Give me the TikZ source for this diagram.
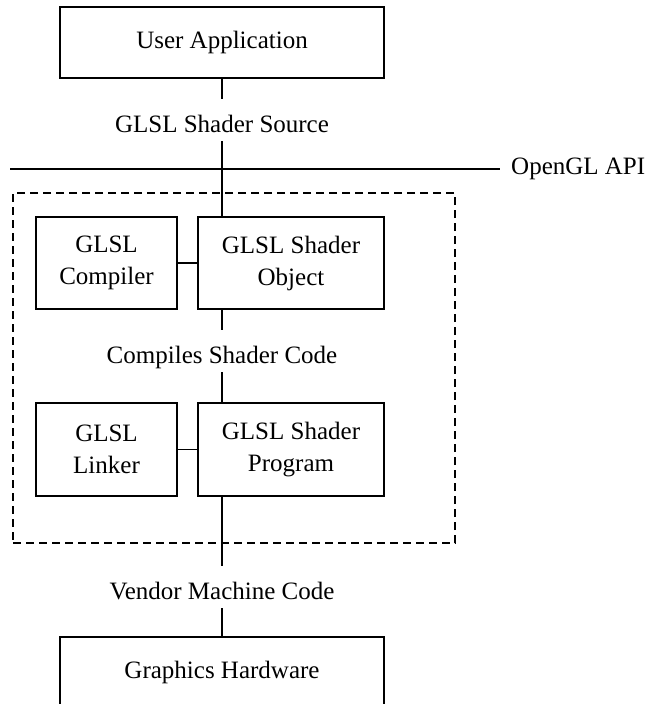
\documentclass[tikz,border=0pt]{standalone}
\usepackage{fontspec}
\setmainfont{Liberation Serif}
\begin{document}
\begin{tikzpicture}[x=1pt,y=-1pt,
  every node/.style={font=\fontsize{25}{32}\selectfont},
  box/.style={draw, line width=1.6pt, align=center, inner sep=0pt},
  lbl/.style={inner sep=0pt, text height=33pt, text depth=9pt, anchor=base},
  conn/.style={line width=1.6pt},
  grpbox/.style={draw, line width=1.6pt, dash pattern=on 8pt off 5pt, inner sep=0pt}]
\useasboundingbox (0,0) rectangle (664,704);
% group frame
\node[grpbox, minimum width=442pt, minimum height=350pt] (grp) at (234,368) {};
% top and bottom boxes
\node[box, minimum width=324pt, minimum height=71pt] (ua) at (222,42.5) {User Application};
\node[lbl] (src) at (222,132) {GLSL Shader Source};
% OpenGL API line
\coordinate (apiL) at (10,169);
\coordinate (apiR) at (500,169);
\draw[conn] (apiL) -- (apiR);
\node[anchor=west, inner sep=0pt] (api) at (511,169) {OpenGL API};
% inner boxes
\node[box, minimum width=141pt, minimum height=92pt] (comp) at (106.5,263) {GLSL\\Compiler};
\node[box, minimum width=186pt, minimum height=92pt] (obj) at (291,263) {GLSL Shader\\Object};
\node[lbl] (clbl) at (222,363) {Compiles Shader Code};
\node[box, minimum width=141pt, minimum height=93pt] (lnk) at (106.5,449.5) {GLSL\\Linker};
\node[box, minimum width=186pt, minimum height=93pt] (prog) at (291,449.5) {GLSL Shader\\Program};
\node[lbl] (vlbl) at (222,599) {Vendor Machine Code};
\node[box, minimum width=324pt, minimum height=71pt] (hw) at (222,672.5) {Graphics Hardware};
% connectors
\draw[conn] (ua.south) -- (src.north);
\draw[conn] (src.south) -- (src.south |- obj.north);
\draw[conn] (comp.east) -- (obj.west);
\draw[conn] (obj.south -| clbl) -- (clbl.north);
\draw[conn] (clbl.south) -- (clbl.south |- prog.north);
\draw[conn] (lnk.east) -- (prog.west);
\draw[conn] (prog.south -| vlbl) -- (vlbl.north);
\draw[conn] (vlbl.south) -- (vlbl.south |- hw.north);
\end{tikzpicture}
\end{document}
